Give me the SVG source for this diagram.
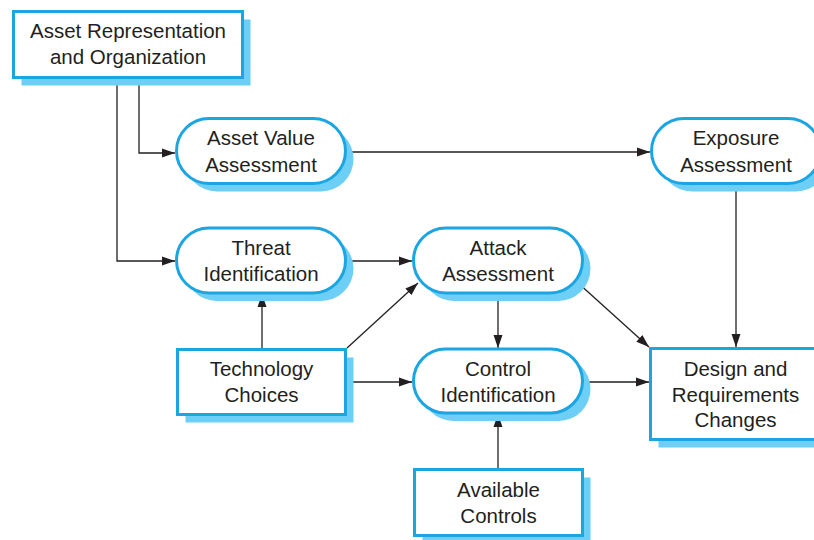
<svg xmlns="http://www.w3.org/2000/svg" width="814" height="540" viewBox="0 0 814 540">
<style>
.sh{fill:#6dcff6;stroke:none}
.bx{fill:#fff;stroke:#1ba5e2;stroke-width:3}
.t{font-family:"Liberation Sans",Arial,sans-serif;font-size:20.5px;fill:#231f20;text-anchor:middle}
.c{fill:none;stroke:#231f20;stroke-width:1.3;marker-end:url(#ah)}
</style>
<defs>
<marker id="ah" markerWidth="14" markerHeight="10" refX="13" refY="5" orient="auto" markerUnits="userSpaceOnUse">
<path d="M0,0.5 L13,5 L0,9.5 Z" fill="#231f20"/>
</marker>
</defs>
<rect width="814" height="540" fill="#fff"/>
<g id="connectors">
<path class="c" d="M139,79 V153 H175"/>
<path class="c" d="M117,79 V261 H175"/>
<path class="c" d="M347,152 H650"/>
<path class="c" d="M736,185 V347"/>
<path class="c" d="M347,261 H412"/>
<path class="c" d="M262,348 V294"/>
<path class="c" d="M347,348 L418,283"/>
<path class="c" d="M347,382 H412"/>
<path class="c" d="M498,294 V348"/>
<path class="c" d="M577,282 L649,347"/>
<path class="c" d="M584,382 H649"/>
<path class="c" d="M498,468 V414"/>
</g>
<g id="asset-representation">
<rect class="sh" x="21.5" y="19.5" width="229" height="66"/>
<rect class="bx" x="13.5" y="11.5" width="229" height="66"/>
<text class="t" x="128" y="37.5">Asset Representation</text>
<text class="t" x="128" y="63.5">and Organization</text>
</g>
<g id="asset-value">
<rect class="sh" x="184.5" y="126.5" width="169" height="65" rx="32.5"/>
<rect class="bx" x="176.5" y="118.5" width="169" height="65" rx="32.5"/>
<text class="t" x="261" y="145">Asset Value</text>
<text class="t" x="261" y="171.5">Assessment</text>
</g>
<g id="exposure">
<rect class="sh" x="659.5" y="126.5" width="169" height="65" rx="32.5"/>
<rect class="bx" x="651.5" y="118.5" width="169" height="65" rx="32.5"/>
<text class="t" x="736" y="145">Exposure</text>
<text class="t" x="736" y="171.5">Assessment</text>
</g>
<g id="threat">
<rect class="sh" x="184.5" y="236" width="169" height="65" rx="32.5"/>
<rect class="bx" x="176.5" y="228" width="169" height="65" rx="32.5"/>
<text class="t" x="261" y="254.5">Threat</text>
<text class="t" x="261" y="280.5">Identification</text>
</g>
<g id="attack">
<rect class="sh" x="421.5" y="236" width="169" height="65" rx="32.5"/>
<rect class="bx" x="413.5" y="228" width="169" height="65" rx="32.5"/>
<text class="t" x="498" y="254.5">Attack</text>
<text class="t" x="498" y="280.5">Assessment</text>
</g>
<g id="technology">
<rect class="sh" x="185.5" y="357.5" width="168" height="65"/>
<rect class="bx" x="177.5" y="349.5" width="168" height="65"/>
<text class="t" x="261.5" y="376">Technology</text>
<text class="t" x="261.5" y="402">Choices</text>
</g>
<g id="control">
<rect class="sh" x="421.5" y="357" width="169" height="64" rx="32"/>
<rect class="bx" x="413.5" y="349" width="169" height="64" rx="32"/>
<text class="t" x="498" y="375.5">Control</text>
<text class="t" x="498" y="401.5">Identification</text>
</g>
<g id="design">
<rect class="sh" x="658.5" y="356.5" width="170" height="91"/>
<rect class="bx" x="650.5" y="348.5" width="170" height="91"/>
<text class="t" x="735.5" y="375.5">Design and</text>
<text class="t" x="735.5" y="401.5">Requirements</text>
<text class="t" x="735.5" y="427">Changes</text>
</g>
<g id="available">
<rect class="sh" x="422.5" y="477.5" width="168" height="66"/>
<rect class="bx" x="414.5" y="469.5" width="168" height="66"/>
<text class="t" x="498.5" y="497">Available</text>
<text class="t" x="498.5" y="523">Controls</text>
</g>
</svg>
